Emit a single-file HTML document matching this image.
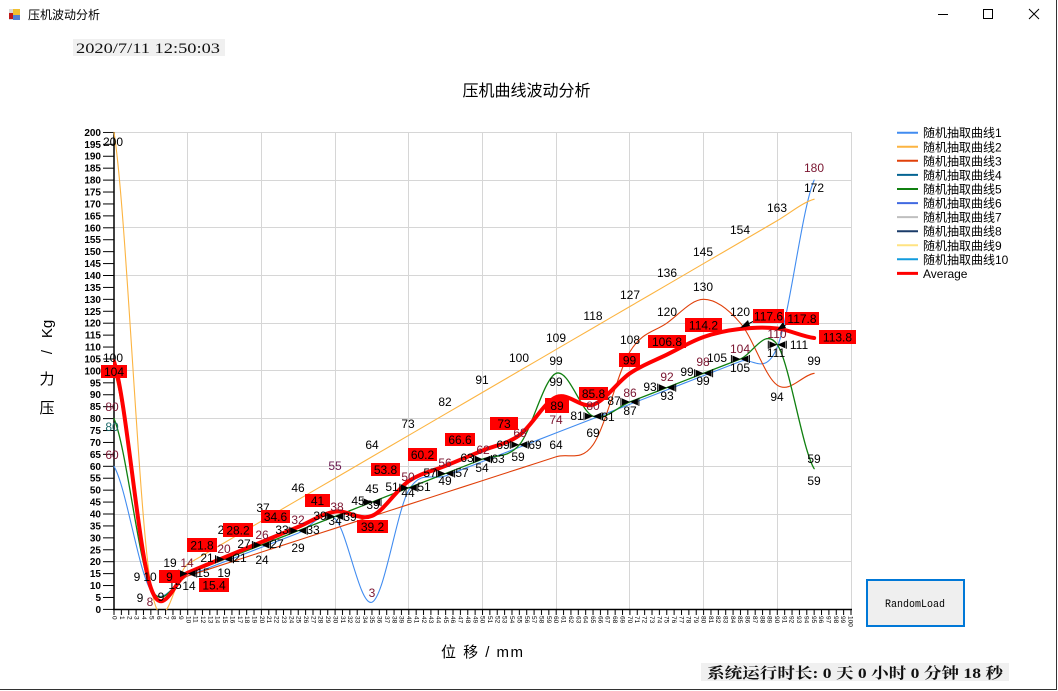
<!DOCTYPE html>
<html><head><meta charset="utf-8"><style>
html,body{margin:0;padding:0;background:#fff;}
#w{position:relative;width:1058px;height:691px;overflow:hidden;background:#fff;font-family:"Liberation Sans","Noto Sans CJK SC",sans-serif;}
#w svg{position:absolute;left:0;top:0;}
#xl{position:absolute;left:110.3px;top:616px;display:flex;height:14px;}
#xl span{flex:0 0 7.37px;width:7.37px;writing-mode:vertical-rl;font-size:6.5px;line-height:7.37px;text-align:start;font-family:"Liberation Sans",sans-serif;color:#000;white-space:nowrap;}
</style></head><body><div id="w">
<svg width="1058" height="691" viewBox="0 0 1058 691" font-family="Liberation Sans, Noto Sans CJK SC, sans-serif">
<defs>
<clipPath id="cp"><rect x="113" y="131" width="739" height="479"/></clipPath>
<pattern id="yt" patternUnits="userSpaceOnUse" x="103" y="131.9" width="11" height="11.925"><rect width="11" height="1" fill="#000"/></pattern>
<pattern id="xt" patternUnits="userSpaceOnUse" x="113.5" y="609" width="7.37" height="7"><rect width="1" height="7" fill="#000"/></pattern>
<g id="bt"><path d="M-9,-4V4M9,-4V4" stroke="#000" stroke-width="1"/><path d="M-8,-3.5L0,0L-8,3.5ZM8,-3.5L0,0L8,3.5Z" fill="#000"/></g>
</defs>

<!-- title bar -->
<rect x="9" y="9" width="11" height="11" fill="#d8d8d8"/>
<rect x="9" y="13" width="4" height="6" fill="#c01818"/>
<rect x="13" y="9" width="7" height="6" fill="#f0c030"/>
<rect x="13" y="15" width="7" height="5" fill="#5080d0"/>
<text x="28" y="19" font-size="12" fill="#000">压机波动分析</text>
<line x1="938" y1="14.5" x2="948" y2="14.5" stroke="#000"/>
<rect x="983.5" y="9.5" width="9" height="9" fill="none" stroke="#000"/>
<path d="M1029,9L1039,19M1039,9L1029,19" stroke="#000"/>
<line x1="1056.5" y1="0" x2="1056.5" y2="690" stroke="#333"/>
<line x1="0" y1="689.5" x2="1057" y2="689.5" stroke="#333"/>

<!-- date -->
<rect x="73" y="39" width="152" height="17" fill="#F0F0F0"/>
<text x="76" y="53" font-family="Liberation Serif, serif" font-size="15" textLength="144" lengthAdjust="spacingAndGlyphs" fill="#111">2020/7/11 12:50:03</text>

<!-- chart title -->
<text x="526.5" y="96" font-size="16" text-anchor="middle" fill="#000">压机曲线波动分析</text>

<!-- grid -->
<g stroke="#D6D6D6" stroke-width="1">
<path d="M187.5,132V609M261.5,132V609M335.5,132V609M408.5,132V609M482.5,132V609M556.5,132V609M629.5,132V609M703.5,132V609M777.5,132V609M851.5,132V609"/>
<path d="M114,561.5H852M114,514.5H852M114,466.5H852M114,418.5H852M114,370.5H852M114,323.5H852M114,275.5H852M114,227.5H852M114,180.5H852M114,132.5H852"/>
</g>

<!-- ticks & axes -->
<rect x="103" y="131.9" width="11" height="478.5" fill="url(#yt)"/>
<rect x="113.5" y="609" width="738.5" height="6" fill="url(#xt)"/>
<line x1="114" y1="132" x2="114" y2="610" stroke="#000" stroke-width="1.5"/>
<line x1="113" y1="609.5" x2="852" y2="609.5" stroke="#000" stroke-width="1.5"/>

<!-- y labels -->
<text font-size="10" font-weight="bold" text-anchor="end" fill="#000">
<tspan x="101" y="612.9">0</tspan><tspan x="101" y="601">5</tspan><tspan x="101" y="589.1">10</tspan><tspan x="101" y="577.1">15</tspan><tspan x="101" y="565.2">20</tspan><tspan x="101" y="553.3">25</tspan><tspan x="101" y="541.4">30</tspan><tspan x="101" y="529.4">35</tspan><tspan x="101" y="517.5">40</tspan><tspan x="101" y="505.6">45</tspan><tspan x="101" y="493.7">50</tspan><tspan x="101" y="481.7">55</tspan><tspan x="101" y="469.8">60</tspan><tspan x="101" y="457.9">65</tspan><tspan x="101" y="445.9">70</tspan><tspan x="101" y="434">75</tspan><tspan x="101" y="422.1">80</tspan><tspan x="101" y="410.2">85</tspan><tspan x="101" y="398.2">90</tspan><tspan x="101" y="386.3">95</tspan><tspan x="101" y="374.4">100</tspan><tspan x="101" y="362.5">105</tspan><tspan x="101" y="350.5">110</tspan><tspan x="101" y="338.6">115</tspan><tspan x="101" y="326.7">120</tspan><tspan x="101" y="314.8">125</tspan><tspan x="101" y="302.8">130</tspan><tspan x="101" y="290.9">135</tspan><tspan x="101" y="279">140</tspan><tspan x="101" y="267.1">145</tspan><tspan x="101" y="255.2">150</tspan><tspan x="101" y="243.2">155</tspan><tspan x="101" y="231.3">160</tspan><tspan x="101" y="219.4">165</tspan><tspan x="101" y="207.5">170</tspan><tspan x="101" y="195.5">175</tspan><tspan x="101" y="183.6">180</tspan><tspan x="101" y="171.7">185</tspan><tspan x="101" y="159.7">190</tspan><tspan x="101" y="147.8">195</tspan><tspan x="101" y="135.9">200</tspan>
</text>

<!-- series -->
<g clip-path="url(#cp)">
<g transform="translate(114 609.4) scale(7.37 -2.385)" fill="none" stroke-linejoin="round" stroke-linecap="round">
<path vector-effect="non-scaling-stroke" stroke="#418CF0" stroke-width="1.1" d="M0,60 C1.667,51.333 3.333,15.667 5,8 C6.667,0.333 8.333,12 10,14 C11.667,16 13.333,18 15,20 C16.667,22 18.333,24 20,26 C21.667,28 23.333,30 25,32 C26.667,34 28.333,42.833 30,38 C31.667,33.167 33.333,1 35,3 C36.667,5 38.333,41.167 40,50 C41.667,58.833 43.333,54 45,56 C46.667,58 48.333,60 50,62 C51.667,64 53.333,66 55,68 C56.667,70 58.333,72 60,74 C61.667,76 63.333,78 65,80 C66.667,82 68.333,84 70,86 C71.667,88 73.333,90 75,92 C76.667,94 78.333,96 80,98 C81.667,100 83.333,102 85,104 C86.667,106 88.333,97.333 90,110 C91.667,122.667 93.333,168.333 95,180"/>
<path vector-effect="non-scaling-stroke" stroke="#FCB441" stroke-width="1.1" d="M0,200 C1.667,168.333 3.333,40.167 5,10 C6.667,-20.167 8.333,16 10,19 C11.667,22 13.333,25 15,28 C16.667,31 18.333,34 20,37 C21.667,40 23.333,43 25,46 C26.667,49 28.333,52 30,55 C31.667,58 33.333,61 35,64 C36.667,67 38.333,70 40,73 C41.667,76 43.333,79 45,82 C46.667,85 48.333,88 50,91 C51.667,94 53.333,97 55,100 C56.667,103 58.333,106 60,109 C61.667,112 63.333,115 65,118 C66.667,121 68.333,124 70,127 C71.667,130 73.333,133 75,136 C76.667,139 78.333,142 80,145 C81.667,148 83.333,151 85,154 C86.667,157 88.333,160 90,163 C91.667,166 93.333,170.5 95,172"/>
<path vector-effect="non-scaling-stroke" stroke="#E0400A" stroke-width="1.1" d="M0,100 C1.667,84.833 3.333,23.333 5,9 C6.667,-5.333 8.333,12.333 10,14 C11.667,15.667 13.333,17.333 15,19 C16.667,20.667 18.333,22.333 20,24 C21.667,25.667 23.333,27.333 25,29 C26.667,30.667 28.333,32.333 30,34 C31.667,35.667 33.333,37.333 35,39 C36.667,40.667 38.333,42.333 40,44 C41.667,45.667 43.333,47.333 45,49 C46.667,50.667 48.333,52.333 50,54 C51.667,55.667 53.333,57.333 55,59 C56.667,60.667 58.333,62.333 60,64 C61.667,65.667 63.333,61.667 65,69 C66.667,76.333 68.333,99.5 70,108 C71.667,116.5 73.333,116.333 75,120 C76.667,123.667 78.333,130 80,130 C81.667,130 83.333,126 85,120 C86.667,114 88.333,97.5 90,94 C91.667,90.5 93.333,98.167 95,99"/>
<path vector-effect="non-scaling-stroke" stroke="#108010" stroke-width="1.3" d="M0,80 C1.667,68.167 3.333,19.833 5,9 C6.667,-1.833 8.333,13 10,15 C11.667,17 13.333,19 15,21 C16.667,23 18.333,25 20,27 C21.667,29 23.333,31 25,33 C26.667,35 28.333,37 30,39 C31.667,41 33.333,43 35,45 C36.667,47 38.333,49 40,51 C41.667,53 43.333,55 45,57 C46.667,59 48.333,61 50,63 C51.667,65 53.333,63 55,69 C56.667,75 58.333,97 60,99 C61.667,101 63.333,83 65,81 C66.667,79 68.333,85 70,87 C71.667,89 73.333,91 75,93 C76.667,95 78.333,97 80,99 C81.667,101 83.333,103 85,105 C86.667,107 88.333,118.667 90,111 C91.667,103.333 93.333,67.667 95,59"/>
<path vector-effect="non-scaling-stroke" stroke="#FF0000" stroke-width="4" d="M0,104 C1.667,88.167 3.333,23.767 5,9 C6.667,-5.767 8.333,13.267 10,15.4 C11.667,17.533 13.333,19.667 15,21.8 C16.667,23.933 18.333,26.067 20,28.2 C21.667,30.333 23.333,32.467 25,34.6 C26.667,36.733 28.333,40.233 30,41 C31.667,41.767 33.333,37.067 35,39.2 C36.667,41.333 38.333,50.3 40,53.8 C41.667,57.3 43.333,58.067 45,60.2 C46.667,62.333 48.333,64.467 50,66.6 C51.667,68.733 53.333,69.267 55,73 C56.667,76.733 58.333,86.867 60,89 C61.667,91.133 63.333,84.133 65,85.8 C66.667,87.467 68.333,95.5 70,99 C71.667,102.5 73.333,104.267 75,106.8 C76.667,109.333 78.333,112.4 80,114.2 C81.667,116 83.333,117 85,117.6 C86.667,118.2 88.333,118.433 90,117.8 C91.667,117.167 93.333,114.467 95,113.8"/>
</g>
</g>

<!-- callout markers -->
<use href="#bt" x="187.7" y="573.6"/><use href="#bt" x="224.5" y="559.3"/><use href="#bt" x="261.4" y="545"/><use href="#bt" x="298.2" y="530.7"/><use href="#bt" x="335.1" y="516.4"/><use href="#bt" x="372" y="502.1"/><use href="#bt" x="408.8" y="487.8"/><use href="#bt" x="445.6" y="473.5"/><use href="#bt" x="482.5" y="459.1"/><use href="#bt" x="519.3" y="444.8"/><use href="#bt" x="593" y="416.2"/><use href="#bt" x="629.9" y="401.9"/><use href="#bt" x="666.7" y="387.6"/><use href="#bt" x="703.6" y="373.3"/><use href="#bt" x="740.4" y="359"/><use href="#bt" x="777.3" y="344.7"/>
<path d="M758,319L744,326M790,322L781,328" stroke="#000" stroke-width="1"/>
<path d="M740,328L748,320L750,326ZM777,330L783,322L786,328Z" fill="#000"/>

<!-- point labels -->
<g font-size="12" text-anchor="middle" fill="#000">
<text x="113" y="146">200</text>
<text x="113" y="362">100</text>
<text x="112" y="411" fill="#7a1530">80</text>
<text x="112" y="431" fill="#1a6a6a">80</text>
<text x="112" y="459" fill="#7a1530">60</text>
<text x="137" y="581">9</text><text x="150" y="581">10</text>
<text x="140" y="602">9</text><text x="150" y="606" fill="#7a1530">8</text><text x="161" y="601">9</text>
<text x="170" y="567">19</text><text x="187" y="567" fill="#7a1530">14</text>
<text x="175" y="589">15</text><text x="189" y="590">14</text><text x="203" y="577">15</text><text x="224" y="577">19</text>
<text x="207" y="562">21</text><text x="224" y="553" fill="#7a1530">20</text><text x="240" y="562">21</text>
<text x="221" y="534">2</text>
<text x="244" y="548">27</text><text x="262" y="539" fill="#7a1530">26</text><text x="277" y="548">27</text><text x="262" y="564">24</text>
<text x="263" y="512">37</text>
<text x="282" y="534">33</text><text x="298" y="524" fill="#7a1530">32</text><text x="313" y="534">33</text><text x="298" y="552">29</text>
<text x="298" y="492">46</text>
<text x="320" y="520">39</text><text x="337" y="511" fill="#7a1530">38</text><text x="335" y="525">34</text><text x="350" y="521">39</text>
<text x="335" y="470" fill="#6a1a50">55</text>
<text x="358" y="505">45</text><text x="372" y="493">45</text><text x="373" y="509">39</text>
<text x="372" y="449">64</text>
<text x="372" y="597" fill="#7a1530">3</text>
<text x="408" y="428">73</text>
<text x="392" y="491">51</text><text x="408" y="481" fill="#7a1530">50</text><text x="408" y="497">44</text><text x="424" y="491">51</text>
<text x="445" y="406">82</text>
<text x="430" y="477">57</text><text x="445" y="467" fill="#7a1530">56</text><text x="445" y="485">49</text><text x="462" y="477">57</text>
<text x="482" y="384">91</text>
<text x="467" y="462">63</text><text x="483" y="454" fill="#7a1530">62</text><text x="482" y="472">54</text><text x="498" y="463">63</text>
<text x="519" y="362">100</text>
<text x="503" y="449">69</text><text x="520" y="437" fill="#7a1530">68</text><text x="518" y="461">59</text><text x="535" y="449">69</text>
<text x="556" y="342">109</text><text x="556" y="365">99</text><text x="556" y="386">99</text><text x="556" y="424" fill="#7a1530">74</text><text x="556" y="449">64</text>
<text x="593" y="320">118</text><text x="593" y="410" fill="#7a1530">80</text><text x="577" y="420">81</text><text x="608" y="421">81</text><text x="593" y="437">69</text>
<text x="630" y="299">127</text><text x="630" y="344">108</text><text x="614" y="405">87</text><text x="630" y="397" fill="#7a1530">86</text><text x="630" y="415">87</text>
<text x="667" y="277">136</text><text x="667" y="316">120</text><text x="650" y="391">93</text><text x="667" y="381" fill="#7a1530">92</text><text x="667" y="400">93</text>
<text x="703" y="256">145</text><text x="703" y="291">130</text><text x="687" y="376">99</text><text x="703" y="366" fill="#7a1530">98</text><text x="703" y="385">99</text>
<text x="740" y="234">154</text><text x="740" y="316">120</text><text x="717" y="362">105</text><text x="740" y="353" fill="#7a1530">104</text><text x="740" y="372">105</text>
<text x="777" y="212">163</text><text x="777" y="338" fill="#7a1530">110</text><text x="776" y="357">111</text><text x="799" y="349">111</text><text x="777" y="401">94</text>
<text x="814" y="172" fill="#7a1530">180</text><text x="814" y="192">172</text><text x="814" y="365">99</text><text x="814" y="463">59</text><text x="814" y="485">59</text>
</g>

<!-- average labels -->
<g fill="#FF0000">
<rect x="101" y="365" width="26" height="13"/>
<rect x="159" y="570" width="21" height="13"/>
<rect x="199" y="578" width="30" height="14"/>
<rect x="187" y="538" width="30" height="14"/>
<rect x="223" y="523" width="30" height="14"/>
<rect x="261" y="510" width="29" height="13"/>
<rect x="305" y="494" width="25" height="13"/>
<rect x="357" y="520" width="31" height="13"/>
<rect x="371" y="463" width="29" height="13"/>
<rect x="408" y="448" width="29" height="13"/>
<rect x="445" y="433" width="30" height="13"/>
<rect x="490" y="417" width="28" height="13"/>
<rect x="545" y="398" width="24" height="15"/>
<rect x="579" y="387" width="29" height="13"/>
<rect x="619" y="353" width="21" height="14"/>
<rect x="648" y="335" width="38" height="13"/>
<rect x="685" y="318" width="37" height="14"/>
<rect x="753" y="309" width="31" height="14"/>
<rect x="785" y="312" width="34" height="13"/>
<rect x="819" y="330" width="37" height="14"/>
</g>
<g font-size="12" text-anchor="middle" fill="#000">
<text x="114" y="376">104</text>
<text x="169.5" y="581">9</text>
<text x="214" y="589.5">15.4</text>
<text x="202" y="549.5">21.8</text>
<text x="238" y="534.5">28.2</text>
<text x="275.5" y="521">34.6</text>
<text x="317.5" y="505">41</text>
<text x="372.5" y="531">39.2</text>
<text x="385.5" y="474">53.8</text>
<text x="422.5" y="459">60.2</text>
<text x="460" y="444">66.6</text>
<text x="504" y="428">73</text>
<text x="557" y="410">89</text>
<text x="593.5" y="398">85.8</text>
<text x="629.5" y="364.5">99</text>
<text x="667" y="346">106.8</text>
<text x="703.5" y="329.5">114.2</text>
<text x="768.5" y="320.5">117.6</text>
<text x="802" y="323">117.8</text>
<text x="837.5" y="341.5">113.8</text>
</g>

<!-- legend -->
<g stroke-width="2">
<line x1="897" y1="132.7" x2="918" y2="132.7" stroke="#418CF0"/>
<line x1="897" y1="146.8" x2="918" y2="146.8" stroke="#FCB441"/>
<line x1="897" y1="160.8" x2="918" y2="160.8" stroke="#E0400A"/>
<line x1="897" y1="174.9" x2="918" y2="174.9" stroke="#056492"/>
<line x1="897" y1="189" x2="918" y2="189" stroke="#108010"/>
<line x1="897" y1="203.1" x2="918" y2="203.1" stroke="#4169E1"/>
<line x1="897" y1="217.1" x2="918" y2="217.1" stroke="#BFBFBF"/>
<line x1="897" y1="231.2" x2="918" y2="231.2" stroke="#1A3B69"/>
<line x1="897" y1="245.3" x2="918" y2="245.3" stroke="#FFE382"/>
<line x1="897" y1="259.3" x2="918" y2="259.3" stroke="#129CDD"/>
<line x1="897" y1="273.4" x2="918" y2="273.4" stroke="#FF0000" stroke-width="3"/>
</g>
<g font-size="12" fill="#000">
<text x="923" y="137.2">随机抽取曲线1</text>
<text x="923" y="151.3">随机抽取曲线2</text>
<text x="923" y="165.3">随机抽取曲线3</text>
<text x="923" y="179.4">随机抽取曲线4</text>
<text x="923" y="193.5">随机抽取曲线5</text>
<text x="923" y="207.6">随机抽取曲线6</text>
<text x="923" y="221.6">随机抽取曲线7</text>
<text x="923" y="235.7">随机抽取曲线8</text>
<text x="923" y="249.8">随机抽取曲线9</text>
<text x="923" y="263.8">随机抽取曲线10</text>
<text x="923" y="277.9">Average</text>
</g>

<!-- axis titles -->
<g font-size="15" fill="#000" text-anchor="middle">
<text x="47" y="413">压</text>
<text x="47" y="384">力</text>
<text transform="translate(52 352) rotate(-90)">/</text>
<text transform="translate(52 329) rotate(-90)">Kg</text>
</g>
<text x="482" y="657" font-size="15" text-anchor="middle" textLength="82" lengthAdjust="spacing" fill="#000">位 移 / mm</text>

<!-- button -->
<rect x="867" y="580" width="97" height="46" fill="#EFEFEF" stroke="#0078D7" stroke-width="2"/>
<text x="885" y="607" font-family="Liberation Mono, monospace" font-size="11" textLength="60" lengthAdjust="spacingAndGlyphs" fill="#000">RandomLoad</text>

<!-- status -->
<rect x="701" y="663" width="308" height="18" fill="#F0F0F0"/>
<text x="707" y="678" font-family="Liberation Serif, Noto Serif CJK SC, serif" font-weight="bold" font-size="15" textLength="296" lengthAdjust="spacingAndGlyphs" fill="#111">系统运行时长: 0 天 0 小时 0 分钟 18 秒</text>
</svg>

<div id="xl"><span>0</span><span>1</span><span>2</span><span>3</span><span>4</span><span>5</span><span>6</span><span>7</span><span>8</span><span>9</span><span>10</span><span>11</span><span>12</span><span>13</span><span>14</span><span>15</span><span>16</span><span>17</span><span>18</span><span>19</span><span>20</span><span>21</span><span>22</span><span>23</span><span>24</span><span>25</span><span>26</span><span>27</span><span>28</span><span>29</span><span>30</span><span>31</span><span>32</span><span>33</span><span>34</span><span>35</span><span>36</span><span>37</span><span>38</span><span>39</span><span>40</span><span>41</span><span>42</span><span>43</span><span>44</span><span>45</span><span>46</span><span>47</span><span>48</span><span>49</span><span>50</span><span>51</span><span>52</span><span>53</span><span>54</span><span>55</span><span>56</span><span>57</span><span>58</span><span>59</span><span>60</span><span>61</span><span>62</span><span>63</span><span>64</span><span>65</span><span>66</span><span>67</span><span>68</span><span>69</span><span>70</span><span>71</span><span>72</span><span>73</span><span>74</span><span>75</span><span>76</span><span>77</span><span>78</span><span>79</span><span>80</span><span>81</span><span>82</span><span>83</span><span>84</span><span>85</span><span>86</span><span>87</span><span>88</span><span>89</span><span>90</span><span>91</span><span>92</span><span>93</span><span>94</span><span>95</span><span>96</span><span>97</span><span>98</span><span>99</span><span>100</span></div>
</div></body></html>
